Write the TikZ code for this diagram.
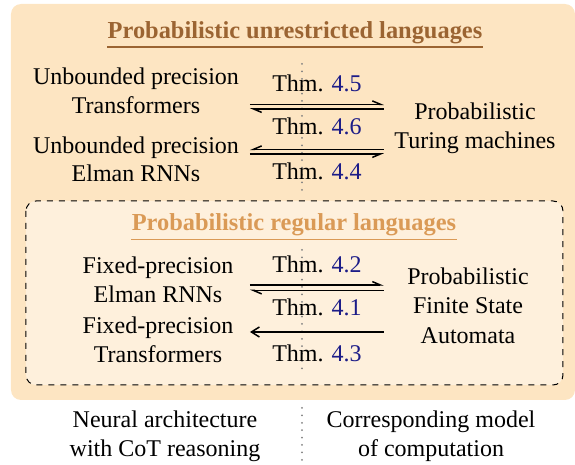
\documentclass[tikz,border=0pt]{standalone}
\usepackage{fontspec}
\setmainfont{Liberation Serif}
\usetikzlibrary{arrows.meta}
\definecolor{outerfill}{HTML}{FDE5C2}
\definecolor{innerfill}{HTML}{FEF0DC}
\definecolor{titleA}{HTML}{9B6432}
\definecolor{titleB}{HTML}{DA9A56}
\definecolor{thmnum}{HTML}{1C1C88}
\begin{document}
\begin{tikzpicture}[x=0.5pt,y=-0.5pt,
  txt/.style={font=\fontsize{12}{14}\selectfont, inner sep=0pt, anchor=base},
  ttl/.style={font=\fontsize{12.2}{14}\selectfont\bfseries, inner sep=0pt, anchor=base},
  harp/.style={line width=0.75pt, -{Straight Barb[harpoon,length=4pt,width=3.4pt]}},
  harps/.style={line width=0.75pt, -{Straight Barb[harpoon,swap,length=4pt,width=3.4pt]}},
  plainarr/.style={line width=0.75pt, -{Straight Barb[length=4pt,width=5pt]}},
  dotln/.style={black!50, line width=1pt, dash pattern=on 0pt off 3.7pt, line cap=round},
]
\useasboundingbox (0,0) rectangle (575,465);
% boxes
\path[fill=outerfill, rounded corners=5pt] (11,4) rectangle (575,400);
\draw[dashed, fill=innerfill, rounded corners=5pt, line width=0.5pt] (26,201) rectangle (563,385);
% titles
\node[ttl, text=titleA] (t1) at (295,39) {Probabilistic unrestricted languages};
\draw[titleA, line width=0.6pt] ([yshift=-4pt]t1.base west) -- ([yshift=-4pt]t1.base east);
\node[ttl, text=titleB] (t2) at (294,231) {Probabilistic regular languages};
\draw[titleB, line width=0.6pt] ([yshift=-4.2pt]t2.base west) -- ([yshift=-4.2pt]t2.base east);
% dotted separators
\coordinate (d1a) at (302,64); \coordinate (d1b) at (302,190);
\coordinate (d2a) at (302,250); \coordinate (d2b) at (302,370);
\coordinate (d3a) at (302,408); \coordinate (d3b) at (302,463);
\draw[dotln] (d1a) -- (d1b);
\draw[dotln] (d2a) -- (d2b);
\draw[dotln] (d3a) -- (d3b);
% upper text
\node[txt] (ua1) at (136,85) {Unbounded precision};
\node[txt] (ua2) at (136,114) {Transformers};
\node[txt] (ub1) at (136,154) {Unbounded precision};
\node[txt] (ub2) at (136,182) {Elman RNNs};
\node[txt] (ur1) at (475,120) {Probabilistic};
\node[txt] (ur2) at (475,149) {Turing machines};
\node[txt] (th45) at (317,92) {Thm. \textcolor{thmnum}{4.5}};
\node[txt] (th46) at (317,135) {Thm. \textcolor{thmnum}{4.6}};
\node[txt] (th44) at (317,180) {Thm. \textcolor{thmnum}{4.4}};
% upper arrows
\coordinate (a1l) at (250,104.3); \coordinate (a1r) at (384,104.3);
\coordinate (b1l) at (250,109); \coordinate (b1r) at (384,109);
\coordinate (a2l) at (250,149.3); \coordinate (a2r) at (384,149.3);
\coordinate (b2l) at (250,154); \coordinate (b2r) at (384,154);
\draw[harp] (a1l) -- (a1r);
\draw[harp] (b1r) -- (b1l);
\draw[harps] (a2r) -- (a2l);
\draw[harps] (b2l) -- (b2r);
% lower text
\node[txt] (la1) at (158,274) {Fixed-precision};
\node[txt] (la2) at (158,303) {Elman RNNs};
\node[txt] (lb1) at (158,334) {Fixed-precision};
\node[txt] (lb2) at (158,363) {Transformers};
\node[txt] (lr1) at (468,285) {Probabilistic};
\node[txt] (lr2) at (468,314) {Finite State};
\node[txt] (lr3) at (468,344) {Automata};
\node[txt] (th42) at (317,273) {Thm. \textcolor{thmnum}{4.2}};
\node[txt] (th41) at (317,316) {Thm. \textcolor{thmnum}{4.1}};
\node[txt] (th43) at (317,362) {Thm. \textcolor{thmnum}{4.3}};
% lower arrows
\coordinate (a3l) at (250,285); \coordinate (a3r) at (384,285);
\coordinate (b3l) at (250,290.5); \coordinate (b3r) at (384,290.5);
\coordinate (c3l) at (250,332); \coordinate (c3r) at (384,332);
\draw[harp] (a3l) -- (a3r);
\draw[harp] (b3r) -- (b3l);
\draw[plainarr] (c3r) -- (c3l);
% bottom captions
\node[txt] (ca1) at (165,428) {Neural architecture};
\node[txt] (ca2) at (165,457) {with CoT reasoning};
\node[txt] (cb1) at (431,428) {Corresponding model};
\node[txt] (cb2) at (431,457) {of computation};
\end{tikzpicture}
\end{document}
